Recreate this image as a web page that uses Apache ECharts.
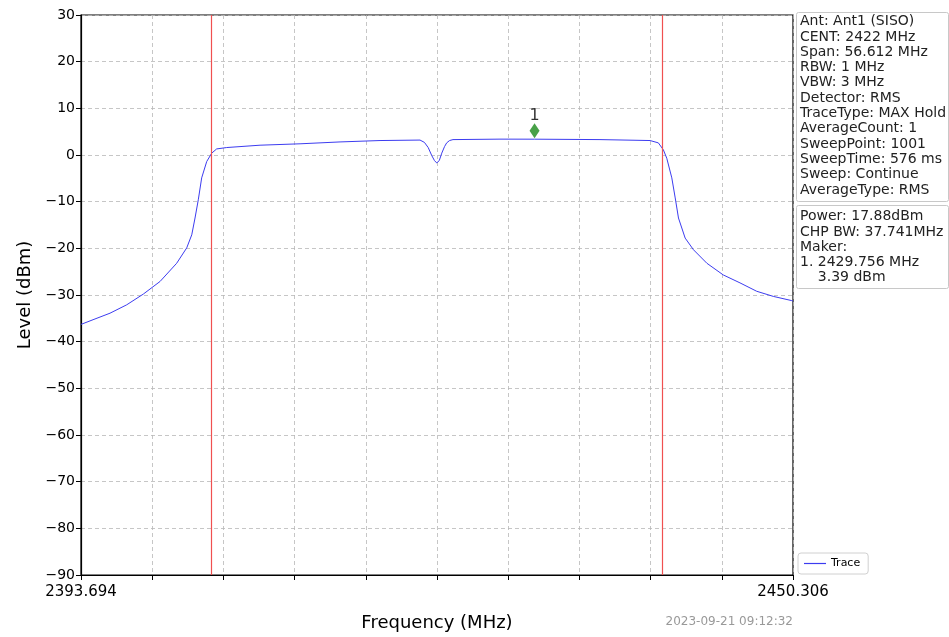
<!DOCTYPE html>
<html>
<head>
<meta charset="utf-8">
<script src="https://cdn.jsdelivr.net/npm/echarts@6/dist/echarts.min.js"></script>
<style>html,body{margin:0;padding:0;background:#fff;}#c{width:949px;height:637px;}</style>
</head>
<body>
<div id="c"></div>
<script>
var F_MIN = 2393.694, F_MAX = 2450.306;
var freq = [2393.694,2393.80,2394.65,2396.00,2397.33,2398.65,2399.98,2401.30,2402.10,2402.50,2402.76,2403.02,2403.29,2403.69,2404.09,2404.48,2405.28,2407.93,2411.11,2414.29,2417.47,2420.65,2421.00,2421.30,2421.58,2421.80,2421.98,2422.18,2422.38,2422.60,2422.77,2423.00,2423.27,2427.01,2429.756,2434.96,2438.94,2439.60,2440.00,2440.27,2440.67,2440.94,2441.20,2441.73,2442.39,2443.46,2444.76,2446.09,2447.42,2448.74,2450.20,2450.306];
var level = [-36.3,-36.4,-35.3,-33.9,-32.1,-29.8,-27.1,-23.2,-19.9,-17.1,-13.5,-9.6,-4.9,-1.4,0.4,1.3,1.6,2.1,2.4,2.8,3.1,3.2,2.7,1.6,-0.1,-1.2,-1.7,-1.2,0.4,1.8,2.6,3.1,3.3,3.4,3.39,3.3,3.1,2.6,1.1,-0.7,-4.9,-9.2,-13.5,-17.8,-20.3,-23.2,-25.7,-27.4,-29.2,-30.3,-31.2,-31.3];
var chpLines = [2404.03, 2439.94];
var markerFreq = [2429.756];
var markerLevel = [5.2];
var markerLabel = ['1'];
var yTicks = {min: -90, max: 30, step: 10};
var xDivisions = 10;
var infoLines1 = ['Ant: Ant1 (SISO)','CENT: 2422 MHz','Span: 56.612 MHz','RBW: 1 MHz','VBW: 3 MHz','Detector: RMS','TraceType: MAX Hold','AverageCount: 1','SweepPoint: 1001','SweepTime: 576 ms','Sweep: Continue','AverageType: RMS'];
var infoLines2 = ['Power: 17.88dBm','CHP BW: 37.741MHz','Maker:','1. 2429.756 MHz','    3.39 dBm'];
var timestamp = '2023-09-21 09:12:32';

var FONT = 'DejaVu Sans';
var span = F_MAX - F_MIN;
var chart = echarts.init(document.getElementById('c'));
var gridCfg = {left: 81, right: 156, top: 15, bottom: 62};
var option = {
  animation: false,
  backgroundColor: '#fff',
  grid: Object.assign({show: true, borderColor: '#000', borderWidth: 1.2, backgroundColor: 'transparent'}, gridCfg),
  xAxis: [{
    type: 'value', min: F_MIN, max: F_MAX,
    name: 'Frequency (MHz)', nameLocation: 'middle', nameGap: 39,
    nameTextStyle: {fontFamily: FONT, fontSize: 18, color: '#000'},
    axisLine: {show: true, onZero: false, lineStyle: {color: '#000', width: 1.2}},
    axisTick: {show: false}, splitLine: {show: false},
    axisLabel: {fontFamily: FONT, fontSize: 15, color: '#000', margin: 10,
      showMinLabel: true, showMaxLabel: true,
      formatter: function (v) {
        if (Math.abs(v - F_MIN) < 1e-6) return F_MIN.toFixed(3);
        if (Math.abs(v - F_MAX) < 1e-6) return F_MAX.toFixed(3);
        return '';
      }}
  }, {
    type: 'value', min: 0, max: span, interval: span / xDivisions, position: 'bottom',
    axisLine: {show: false, onZero: false}, axisLabel: {show: false},
    axisTick: {show: true, inside: false, length: 5, lineStyle: {color: '#000', width: 1}},
    splitLine: {show: true, lineStyle: {color: '#b8b8b8', width: 0.8, type: [4, 3]}}
  }],
  yAxis: {
    type: 'value', min: yTicks.min, max: yTicks.max, interval: yTicks.step,
    name: 'Level (dBm)', nameLocation: 'middle', nameGap: 41,
    nameTextStyle: {fontFamily: FONT, fontSize: 18, color: '#000'},
    axisLine: {show: true, lineStyle: {color: '#000', width: 1.2}},
    axisTick: {show: true, length: 5, lineStyle: {color: '#000'}},
    axisLabel: {fontFamily: FONT, fontSize: 14, color: '#000', margin: 6,
      formatter: function (v) { return String(v).replace('-', '\u2212'); }},
    splitLine: {show: true, lineStyle: {color: '#b8b8b8', width: 0.8, type: [4, 3]}}
  },
  legend: {
    data: [{name: 'Trace', icon: 'rect'}],
    left: 798, top: 553, orient: 'vertical',
    itemWidth: 22, itemHeight: 1.2, itemGap: 4,
    textStyle: {fontFamily: FONT, fontSize: 11, color: '#000'},
    borderColor: '#d0d0d0', borderWidth: 1, borderRadius: 3, padding: [5, 8, 5, 6],
    backgroundColor: '#fff'
  },
  series: [{
    name: 'Trace', type: 'line', xAxisIndex: 0,
    data: freq.map(function (f, i) { return [f, level[i]]; }),
    symbol: 'none', smooth: false,
    lineStyle: {color: '#3c3cf0', width: 1},
    itemStyle: {color: '#3c3cf0'},
    markLine: {
      silent: true, symbol: 'none', label: {show: false},
      lineStyle: {color: '#f05050', width: 1.2, type: 'solid'},
      data: chpLines.map(function (x) { return {xAxis: x}; })
    },
    z: 3
  }, {
    name: 'Marker', type: 'scatter', xAxisIndex: 0,
    data: markerFreq.map(function (f, i) { return [f, markerLevel[i]]; }),
    symbol: 'diamond', symbolSize: [10, 15],
    itemStyle: {color: '#1a8a1a'},
    label: {show: true, position: 'top', distance: -1, fontFamily: FONT, fontSize: 16, color: '#000',
      formatter: function (p) { return markerLabel[p.dataIndex]; }},
    z: 4
  }],
  graphic: [
    {type: 'rect', left: 796, top: 12, shape: {width: 152, height: 189, r: 2},
     style: {fill: '#fff', stroke: '#c8c8c8', lineWidth: 1}},
    {type: 'text', left: 800, top: 14,
     style: {text: infoLines1.join('\n'), fontFamily: FONT, fontSize: 14, lineHeight: 15.3, fill: '#222'}},
    {type: 'rect', left: 796, top: 205, shape: {width: 152, height: 83, r: 2},
     style: {fill: '#fff', stroke: '#c8c8c8', lineWidth: 1}},
    {type: 'text', left: 800, top: 209,
     style: {text: infoLines2.join('\n'), fontFamily: FONT, fontSize: 14, lineHeight: 15.3, fill: '#222'}},
    {type: 'text', right: 156, top: 616,
     style: {text: timestamp, fontFamily: FONT, fontSize: 12, fill: '#999'}}
  ]
};
chart.setOption(option);
</script>
</body>
</html>
